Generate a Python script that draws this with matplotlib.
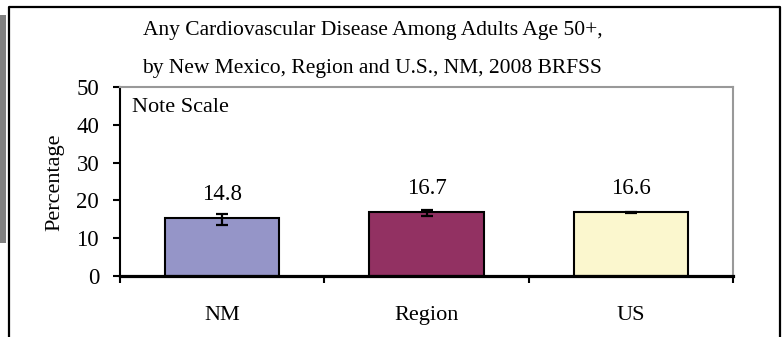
import matplotlib
matplotlib.use("Agg")
import matplotlib.pyplot as plt
from matplotlib.patches import Rectangle
from matplotlib.lines import Line2D

categories = ["NM", "Region", "US"]
bar_heights = [15.4, 16.9, 16.9]
value_labels = [14.8, 16.7, 16.6]
ci_lower = [13.6, 15.8, 16.6]
ci_upper = [16.5, 17.4, 16.9]
ci_center = [15.0, 16.6, 16.75]
bar_colors = ["#9595C8", "#923162", "#FBF7CE"]
yticks = [0, 10, 20, 30, 40, 50]
title_lines = ["Any Cardiovascular Disease Among Adults Age 50+,",
               "by New Mexico, Region and U.S., NM, 2008 BRFSS"]

plt.rcParams['font.family'] = ['Liberation Serif', 'DejaVu Serif']

W, H = 784, 337
fig = plt.figure(figsize=(W / 100, H / 100), dpi=100)

def fx(px):
    return px / W

def fy(py):
    return 1 - py / H

ax = fig.add_axes([fx(120), fy(276), fx(733) - fx(120), fy(87) - fy(276)])

x = list(range(len(categories)))
ax.bar(x, bar_heights, width=0.56, color=bar_colors, edgecolor="black",
       linewidth=1.5, zorder=2)
yerr = [[c - l for c, l in zip(ci_center, ci_lower)],
        [u - c for c, u in zip(ci_center, ci_upper)]]
ax.errorbar(x, ci_center, yerr=yerr, fmt="none", ecolor="black",
            elinewidth=1.6, capsize=4, capthick=1.6, zorder=3)
for xi, h, v in zip(x, bar_heights, value_labels):
    ax.annotate(f"{v:.1f}", (xi, h), xytext=(0, 17), textcoords="offset points",
                ha="center", va="center", fontsize=16.5)

ax.set_xlim(-0.5, 2.5)
ax.set_ylim(0, 50)
ax.set_yticks(yticks)
ax.set_yticklabels([str(t) for t in yticks], fontsize=16.5)
ax.set_xticks(x)
ax.set_xticklabels(categories, fontsize=16)
ax.set_xticks([-0.5, 0.5, 1.5, 2.5], minor=True)
ax.tick_params(axis="x", which="major", length=0, pad=21.5)
ax.tick_params(axis="x", which="minor", length=5, width=1.5, direction="out")
ax.tick_params(axis="y", which="major", length=5, width=1.5, direction="out", pad=10)

ax.spines["left"].set_linewidth(1.5)
ax.spines["bottom"].set_linewidth(2.3)
for s in ["top", "right"]:
    ax.spines[s].set_color("#999999")
    ax.spines[s].set_linewidth(1.5)

ax.text(0.02, 0.889, "Note Scale", transform=ax.transAxes, ha="left",
        va="center", fontsize=16)

fig.text(fx(373), fy(30), title_lines[0], ha="center", va="center", fontsize=15.5)
fig.text(fx(372), fy(68), title_lines[1], ha="center", va="center", fontsize=15.5)
fig.text(fx(55), fy(182), "Percentage", rotation=90, ha="center",
         va="center", fontsize=16)

# outer frame and side bar
fig.add_artist(Rectangle((0, fy(243)), fx(6), fy(15) - fy(243),
                         transform=fig.transFigure, color="#808080", lw=0))
fig.add_artist(Line2D([fx(8.5), fx(8.5), fx(779.5), fx(779.5)],
                      [0, fy(6.5), fy(6.5), 0], transform=fig.transFigure,
                      color="black", lw=1.6))

fig.savefig("out.png", dpi=100)
